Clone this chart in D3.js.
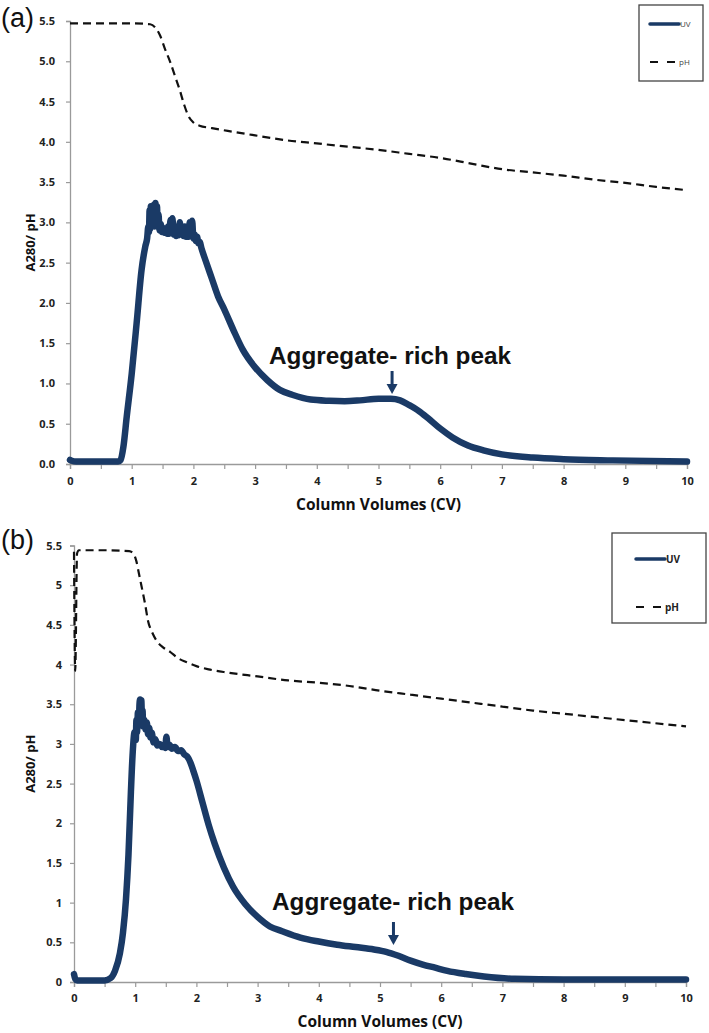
<!DOCTYPE html>
<html><head><meta charset="utf-8">
<script src="https://cdn.jsdelivr.net/npm/d3@7"></script>
<style>body{margin:0;background:#fff}svg{display:block}</style>
</head><body>
<svg id="chart" width="709" height="1033"></svg>
<script>
// ---------- Data ----------
const xTicks = [0,0.5,1,1.5,2,2.5,3,3.5,4,4.5,5,5.5,6,6.5,7,7.5,8,8.5,9,9.5,10];
const yTicks = [0,0.5,1,1.5,2,2.5,3,3.5,4,4.5,5,5.5];
const yLabelsA = ["0.0","0.5","1.0","1.5","2.0","2.5","3.0","3.5","4.0","4.5","5.0","5.5"];
const yLabelsB = ["0","0.5","1","1.5","2","2.5","3","3.5","4","4.5","5","5.5"];

const uvA_x = [0,0.03,0.1,0.3,0.5,0.7,0.78,0.82,0.865,0.92,1.0,1.08,1.16,1.22,1.25,1.27,1.28,1.29,1.30,1.31,1.32,1.335,1.345,1.36,1.37,1.385,1.40,1.41,1.42,1.435,1.45,1.47,1.49,1.51,1.53,1.55,1.57,1.59,1.61,1.63,1.645,1.66,1.68,1.70,1.72,1.74,1.76,1.78,1.80,1.82,1.84,1.86,1.88,1.90,1.92,1.94,1.96,1.98,2.0,2.02,2.04,2.06,2.08,2.10,2.13,2.2,2.3,2.4,2.5,2.65,2.8,3.0,3.2,3.4,3.6,3.9,4.2,4.45,4.7,5.0,5.2,5.35,5.5,5.65,5.8,6.0,6.2,6.45,6.7,7.0,7.5,8.0,8.8,10];
const uvA_y = [0.05,0.04,0.03,0.03,0.03,0.03,0.03,0.05,0.21,0.59,1.12,1.75,2.41,2.70,2.80,2.95,2.88,3.15,2.92,3.20,2.95,3.18,2.98,3.22,2.95,3.24,3.00,3.20,2.95,3.10,2.90,2.98,2.88,2.93,2.87,2.92,2.86,2.95,2.86,3.03,2.88,3.05,2.85,2.93,2.83,2.95,2.84,3.00,2.85,2.93,2.83,2.95,2.82,2.92,2.82,3.00,2.83,3.02,2.80,2.85,2.77,2.82,2.74,2.76,2.68,2.52,2.30,2.08,1.92,1.66,1.42,1.20,1.04,0.92,0.86,0.80,0.785,0.78,0.79,0.81,0.81,0.79,0.73,0.66,0.57,0.44,0.33,0.23,0.17,0.12,0.08,0.06,0.045,0.03];

const phA_x = [0,0.5,1.0,1.3,1.38,1.46,1.54,1.62,1.7,1.78,1.85,1.92,2.0,2.1,2.3,2.6,3.0,3.5,4.0,4.5,5.0,5.5,6.0,6.5,7.0,7.5,8.0,8.5,9.0,9.5,10];
const phA_y = [5.47,5.47,5.47,5.46,5.42,5.32,5.15,5.0,4.82,4.64,4.46,4.32,4.24,4.2,4.17,4.13,4.08,4.02,3.98,3.94,3.9,3.85,3.8,3.73,3.66,3.62,3.58,3.53,3.49,3.44,3.40];

const uvB_x = [0,0.02,0.05,0.3,0.5,0.6,0.67,0.75,0.8,0.85,0.89,0.93,0.96,0.99,1.01,1.02,1.03,1.045,1.06,1.07,1.08,1.09,1.10,1.11,1.12,1.13,1.15,1.17,1.19,1.21,1.23,1.25,1.27,1.30,1.33,1.36,1.40,1.44,1.47,1.49,1.51,1.53,1.56,1.60,1.65,1.70,1.75,1.80,1.85,1.9,1.95,2.0,2.1,2.2,2.3,2.45,2.6,2.8,3.0,3.2,3.4,3.7,4.0,4.3,4.6,4.9,5.1,5.3,5.5,5.7,5.9,6.1,6.4,6.7,7.2,8,10];
const uvB_y = [0.1,0.04,0.02,0.02,0.02,0.05,0.14,0.36,0.62,1.05,1.6,2.4,2.9,3.15,3.05,3.3,3.15,3.4,3.25,3.5,3.56,3.48,3.55,3.35,3.42,3.22,3.3,3.18,3.27,3.12,3.2,3.08,3.14,3.02,3.06,2.98,3.0,2.96,2.99,2.95,3.09,2.96,2.99,2.94,2.96,2.91,2.92,2.87,2.84,2.77,2.66,2.54,2.26,1.98,1.74,1.44,1.2,0.98,0.82,0.7,0.64,0.56,0.51,0.47,0.44,0.41,0.38,0.33,0.27,0.22,0.18,0.14,0.10,0.07,0.04,0.03,0.03];

const phB_x = [0,0.02,0.05,0.08,0.5,0.9,0.97,1.02,1.06,1.1,1.16,1.21,1.28,1.35,1.45,1.57,1.7,1.84,2.0,2.2,2.5,3.0,3.5,4.0,4.5,5.0,5.5,6.0,6.5,7.0,7.5,8.0,8.5,9.0,9.5,10];
const phB_y = [5.42,3.92,5.4,5.44,5.44,5.43,5.4,5.3,5.15,5.0,4.77,4.55,4.4,4.3,4.22,4.16,4.08,4.03,3.98,3.94,3.9,3.85,3.8,3.77,3.73,3.67,3.62,3.57,3.52,3.47,3.42,3.38,3.34,3.30,3.26,3.22];

const seriesNames = ["UV","pH"];
const annotation = "Aggregate- rich peak";
const arrowX = 5.22;

// ---------- Drawing ----------
const svg = d3.select("#chart");
svg.append("rect").attr("width",709).attr("height",1033).attr("fill","#fff");
const UV_COLOR = "#1a3a66";
const AXIS_COLOR = "#9a9a9a";
const FONT = "'Open Sans','Liberation Sans',Arial,sans-serif";

const panels = [
  {tag:"(a)", tagY:27, x0:70, x1:687, yTop:21, yBot:464, yLabels:yLabelsA, ylPad:11, xlPad:8,
   uvx:uvA_x, uvy:uvA_y, phx:phA_x, phy:phA_y, titleY:510, annY:364, annX:269, arrTop:371, arrBot:394,
   legend:{x:639,y:5,w:64,h:76,uvY:24,phY:62,lx:650,fs:8,fw:"normal",fc:"#444"}},
  {tag:"(b)", tagY:549, x0:74, x1:686, yTop:545.5, yBot:982, yLabels:yLabelsB, ylPad:8, xlPad:7,
   uvx:uvB_x, uvy:uvB_y, phx:phB_x, phy:phB_y, titleY:1027, annY:910, annX:272, arrTop:922, arrBot:945,
   legend:{x:612,y:533,w:94,h:90,uvY:559,phY:607,lx:636,fs:10,fw:"bold",fc:"#222"}}
];

panels.forEach(p => {
  const x = d3.scaleLinear().domain([0,10]).range([p.x0,p.x1]);
  const y = d3.scaleLinear().domain([0,5.5]).range([p.yBot,p.yTop]);
  const g = svg.append("g");

  g.append("text").attr("x",1).attr("y",p.tagY).text(p.tag)
    .attr("font-family","'Liberation Sans',Arial,sans-serif").attr("font-size",27).attr("fill","#111");

  const ya = g.append("g").attr("transform",`translate(${p.x0},0)`)
    .call(d3.axisLeft(y).tickValues(yTicks).tickSize(4).tickPadding(p.ylPad)
      .tickFormat((d,i)=>p.yLabels[i]));
  const xa = g.append("g").attr("transform",`translate(0,${p.yBot})`)
    .call(d3.axisBottom(x).tickValues(xTicks).tickSize(5).tickPadding(p.xlPad)
      .tickFormat(d => Number.isInteger(d) ? String(d) : ""));
  [ya,xa].forEach(a => {
    a.select(".domain").attr("stroke",AXIS_COLOR).attr("stroke-width",1.3);
    a.selectAll(".tick line").attr("stroke",AXIS_COLOR).attr("stroke-width",1.2);
    a.selectAll(".tick text").attr("font-family",FONT).attr("font-weight","bold")
      .attr("font-size",11).attr("fill","#222");
  });

  g.append("text").attr("x",(p.x0+p.x1)/2).attr("y",p.titleY).attr("text-anchor","middle")
    .attr("font-family",FONT).attr("font-weight","bold").attr("font-size",15.5).attr("fill","#111")
    .attr("textLength",165).attr("lengthAdjust","spacingAndGlyphs")
    .text("Column Volumes (CV)");
  g.append("text").attr("transform",`translate(35,${(p.yTop+p.yBot)/2}) rotate(-90)`)
    .attr("text-anchor","middle").attr("font-family",FONT).attr("font-weight","bold")
    .attr("font-size",13).attr("fill","#111").text("A280/ pH");

  const phData = p.phx.map((v,i)=>[v,p.phy[i]]);
  g.append("path").datum(phData)
    .attr("d",d3.line().x(d=>x(d[0])).y(d=>y(d[1])).curve(d3.curveMonotoneX))
    .attr("fill","none").attr("stroke","#111").attr("stroke-width",2.2)
    .attr("stroke-dasharray","8,5");

  const uvData = p.uvx.map((v,i)=>[v,p.uvy[i]]);
  g.append("path").datum(uvData)
    .attr("d",d3.line().x(d=>x(d[0])).y(d=>y(d[1])).curve(d3.curveMonotoneX))
    .attr("fill","none").attr("stroke",UV_COLOR).attr("stroke-width",6.5)
    .attr("stroke-linejoin","round").attr("stroke-linecap","round");

  g.append("text").attr("x",p.annX).attr("y",p.annY)
    .attr("font-family","'Liberation Sans',Arial,sans-serif").attr("font-weight","bold")
    .attr("font-size",23).attr("fill","#111")
    .attr("textLength",242).attr("lengthAdjust","spacingAndGlyphs").text(annotation);
  const ax = x(arrowX);
  g.append("line").attr("x1",ax).attr("x2",ax).attr("y1",p.arrTop).attr("y2",p.arrBot-8)
    .attr("stroke",UV_COLOR).attr("stroke-width",3);
  g.append("path").attr("d",`M${ax-5.5},${p.arrBot-10} L${ax+5.5},${p.arrBot-10} L${ax},${p.arrBot} Z`)
    .attr("fill",UV_COLOR);

  const L = p.legend;
  g.append("rect").attr("x",L.x).attr("y",L.y).attr("width",L.w).attr("height",L.h)
    .attr("fill","#fff").attr("stroke","#444").attr("stroke-width",1.3);
  g.append("line").attr("x1",L.lx).attr("x2",L.lx+29).attr("y1",L.uvY).attr("y2",L.uvY)
    .attr("stroke",UV_COLOR).attr("stroke-width",3.5).attr("stroke-linecap","round");
  g.append("line").attr("x1",L.lx).attr("x2",L.lx+28).attr("y1",L.phY).attr("y2",L.phY)
    .attr("stroke","#111").attr("stroke-width",2).attr("stroke-dasharray","8,9");
  g.append("text").attr("x",L.lx+30).attr("y",L.uvY+L.fs*0.35).text(seriesNames[0])
    .attr("font-family",FONT).attr("font-size",L.fs).attr("font-weight",L.fw).attr("fill",L.fc);
  g.append("text").attr("x",L.lx+29).attr("y",L.phY+L.fs*0.35).text(seriesNames[1])
    .attr("font-family",FONT).attr("font-size",L.fs).attr("font-weight",L.fw).attr("fill",L.fc);
});
</script>
</body></html>
